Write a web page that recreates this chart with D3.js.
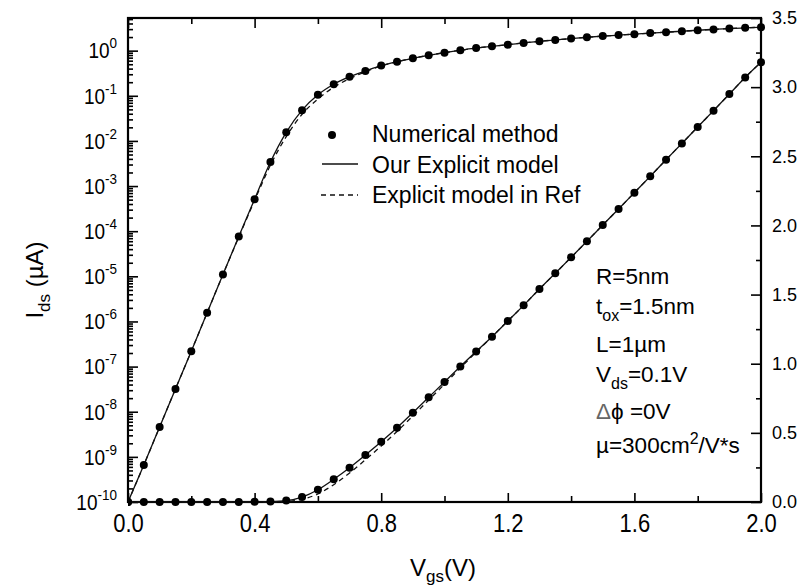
<!DOCTYPE html>
<html>
<head>
<meta charset="utf-8">
<script src="https://cdn.jsdelivr.net/npm/d3@7"></script>
<style>
  html, body { margin: 0; padding: 0; background: #fff; }
  svg { display: block; }
  text { font-family: "Liberation Sans", Arial, Helvetica, sans-serif; fill: #000; }
</style>
</head>
<body>
<svg id="chart" width="810" height="587"></svg>
<script>
// Gate voltage grid (V)
const vgs = [0.00, 0.05, 0.10, 0.15, 0.20, 0.25, 0.30, 0.35, 0.40, 0.45,
             0.50, 0.55, 0.60, 0.65, 0.70, 0.75, 0.80, 0.85, 0.90, 0.95,
             1.00, 1.05, 1.10, 1.15, 1.20, 1.25, 1.30, 1.35, 1.40, 1.45,
             1.50, 1.55, 1.60, 1.65, 1.70, 1.75, 1.80, 1.85, 1.90, 1.95, 2.00];

// Ids (µA) on the logarithmic (left) axis
const numericalLog = [1.0e-10, 6.6e-10, 4.6e-9, 3.2e-8, 2.2e-7, 1.55e-6, 1.1e-5, 7.6e-5, 5.1e-4, 3.4e-3,
                      1.55e-2, 4.8e-2, 0.105, 0.18, 0.265, 0.355, 0.466, 0.57, 0.678, 0.789,
                      0.904, 1.02, 1.148, 1.25, 1.36, 1.48, 1.61, 1.73, 1.85, 1.98,
                      2.10, 2.21, 2.32, 2.45, 2.57, 2.69, 2.83, 2.96, 3.09, 3.20, 3.31];
const ourModelLog  = [1.0e-10, 6.6e-10, 4.6e-9, 3.2e-8, 2.2e-7, 1.55e-6, 1.1e-5, 7.6e-5, 5.1e-4, 3.4e-3,
                      1.55e-2, 4.8e-2, 0.105, 0.18, 0.265, 0.355, 0.466, 0.57, 0.678, 0.789,
                      0.904, 1.02, 1.148, 1.25, 1.36, 1.48, 1.61, 1.73, 1.85, 1.98,
                      2.10, 2.21, 2.32, 2.45, 2.57, 2.69, 2.83, 2.96, 3.09, 3.20, 3.31];
const refModelLog  = [1.0e-10, 6.6e-10, 4.6e-9, 3.2e-8, 2.2e-7, 1.55e-6, 1.1e-5, 7.4e-5, 4.8e-4, 2.9e-3,
                      1.25e-2, 3.9e-2, 0.085, 0.155, 0.24, 0.34, 0.46, 0.57, 0.678, 0.789,
                      0.904, 1.02, 1.148, 1.25, 1.36, 1.48, 1.61, 1.73, 1.85, 1.98,
                      2.10, 2.21, 2.32, 2.45, 2.57, 2.69, 2.83, 2.96, 3.09, 3.20, 3.31];

// Ids (µA) on the linear (right) axis
const numericalLin = [0, 0, 0, 0, 0, 0, 0, 0, 0.001, 0.003,
                      0.010, 0.036, 0.089, 0.164, 0.248, 0.340, 0.436, 0.537, 0.646, 0.757,
                      0.868, 0.980, 1.088, 1.195, 1.309, 1.422, 1.540, 1.654, 1.769, 1.885,
                      2.003, 2.119, 2.237, 2.355, 2.475, 2.593, 2.712, 2.830, 2.950, 3.070, 3.180];
const ourModelLin  = [0, 0, 0, 0, 0, 0, 0, 0, 0.001, 0.003,
                      0.010, 0.036, 0.089, 0.164, 0.248, 0.340, 0.436, 0.537, 0.646, 0.757,
                      0.868, 0.980, 1.088, 1.195, 1.309, 1.422, 1.540, 1.654, 1.769, 1.885,
                      2.003, 2.119, 2.237, 2.355, 2.475, 2.593, 2.712, 2.830, 2.950, 3.070, 3.180];
const refModelLin  = [0, 0, 0, 0, 0, 0, 0, 0, 0, 0,
                      0.003, 0.020, 0.058, 0.125, 0.210, 0.305, 0.405, 0.510, 0.622, 0.737,
                      0.852, 0.970, 1.083, 1.195, 1.309, 1.422, 1.540, 1.654, 1.769, 1.885,
                      2.003, 2.119, 2.237, 2.355, 2.475, 2.593, 2.712, 2.830, 2.950, 3.070, 3.180];

// Axis ticks
const xMajorTicks = [0.0, 0.4, 0.8, 1.2, 1.6, 2.0];
const xMinorTicks = [0.2, 0.6, 1.0, 1.4, 1.8];
const logExponents = [0, -1, -2, -3, -4, -5, -6, -7, -8, -9, -10];
const rightMajorTicks = [0.0, 0.5, 1.0, 1.5, 2.0, 2.5, 3.0, 3.5];
const rightMinorTicks = [0.25, 0.75, 1.25, 1.75, 2.25, 2.75, 3.25];

// Legend entries
const legendLabels = ["Numerical method", "Our Explicit model", "Explicit model in Ref"];

const svg = d3.select("#chart");
const L = 128, R = 761, T = 18, B = 502;

const x = d3.scaleLinear().domain([0, 2]).range([L, R]);
const yLog = d3.scaleLog().domain([1e-10, 5.29]).range([B, T]);
const yLin = d3.scaleLinear().domain([0, 3.5]).range([B, T]);

svg.append("defs").append("clipPath").attr("id", "plotClip")
  .append("rect").attr("x", L).attr("y", T - 6).attr("width", R - L + 6).attr("height", B - T + 12);

// ---- axes ----
function styleAxis(g) {
  g.select(".domain").remove();
  g.selectAll(".tick line").attr("stroke", "#000").attr("stroke-width", 1.6);
}

// bottom
svg.append("g").attr("transform", `translate(0,${B})`)
  .call(d3.axisBottom(x).tickValues(xMajorTicks).tickSize(-9).tickPadding(9).tickFormat(d3.format(".1f")))
  .call(styleAxis)
  .call(g => g.selectAll("text").attr("font-size", 22).attr("fill", "#000")
    .attr("transform", "scale(1,1.2)"));
svg.append("g").attr("transform", `translate(0,${B})`)
  .call(d3.axisBottom(x).tickValues(xMinorTicks).tickSize(-6).tickFormat(""))
  .call(styleAxis);

// top
svg.append("g").attr("transform", `translate(0,${T})`)
  .call(d3.axisTop(x).tickValues(xMajorTicks).tickSize(-10).tickFormat(""))
  .call(styleAxis);
svg.append("g").attr("transform", `translate(0,${T})`)
  .call(d3.axisTop(x).tickValues(xMinorTicks).tickSize(-6).tickFormat(""))
  .call(styleAxis);

// left (log)
const decadeValues = logExponents.map(e => Math.pow(10, e));
const minorLogValues = [];
logExponents.forEach(e => {
  if (e === 0) {
    [2, 3, 4, 5].forEach(k => minorLogValues.push(k));
  }
  if (e > -10) {
    [2, 3, 4, 5, 6, 7, 8, 9].forEach(k => minorLogValues.push(k * Math.pow(10, e - 1)));
  }
});
const leftAxis = svg.append("g").attr("transform", `translate(${L},0)`)
  .call(d3.axisLeft(yLog).tickValues(decadeValues).tickSize(-10).tickFormat(""))
  .call(styleAxis);
svg.append("g").attr("transform", `translate(${L},0)`)
  .call(d3.axisLeft(yLog).tickValues(minorLogValues.filter(v => v <= 5.29)).tickSize(-5).tickFormat(""))
  .call(styleAxis);

leftAxis.selectAll(".tick").each(function (d) {
  const e = Math.round(Math.log10(d));
  const t = d3.select(this).append("text")
    .attr("x", -11).attr("y", 6.5)
    .attr("text-anchor", "end")
    .attr("font-size", 19)
    .attr("transform", "scale(1,1.12)")
    .attr("fill", "#000");
  t.append("tspan").text("10");
  t.append("tspan").attr("dy", -9).attr("font-size", 13.5).text(String(e));
});

// right (linear)
svg.append("g").attr("transform", `translate(${R},0)`)
  .call(d3.axisRight(yLin).tickValues(rightMajorTicks).tickSize(-10).tickPadding(11).tickFormat(d3.format(".1f")))
  .call(styleAxis)
  .call(g => g.selectAll("text").attr("font-size", 18).attr("fill", "#333"));
svg.append("g").attr("transform", `translate(${R},0)`)
  .call(d3.axisRight(yLin).tickValues(rightMinorTicks).tickSize(-5).tickFormat(""))
  .call(styleAxis);

// frame
svg.append("rect")
  .attr("x", L).attr("y", T).attr("width", R - L).attr("height", B - T)
  .attr("fill", "none").attr("stroke", "#000").attr("stroke-width", 2.2);

// ---- curves ----
const plot = svg.append("g").attr("clip-path", "url(#plotClip)");

function drawLine(values, yScale, dashed) {
  const line = d3.line()
    .x((d, i) => x(vgs[i]))
    .y(d => yScale(d))
    .curve(d3.curveMonotoneX);
  plot.append("path")
    .attr("d", line(values))
    .attr("fill", "none")
    .attr("stroke", "#111")
    .attr("stroke-width", 1.3)
    .attr("stroke-dasharray", dashed ? "5,4" : null);
}

drawLine(refModelLog, yLog, true);
drawLine(refModelLin, yLin, true);
drawLine(ourModelLog, yLog, false);
drawLine(ourModelLin, yLin, false);

function drawDots(values, yScale) {
  plot.append("g").selectAll("circle")
    .data(values)
    .join("circle")
    .attr("cx", (d, i) => x(vgs[i]))
    .attr("cy", d => yScale(d))
    .attr("r", 4)
    .attr("fill", "#000");
}
drawDots(numericalLog, yLog);
drawDots(numericalLin, yLin);

// ---- legend ----
const legend = svg.append("g");
legend.append("circle").attr("cx", 332).attr("cy", 135).attr("r", 4).attr("fill", "#000");
legend.append("line").attr("x1", 322).attr("x2", 358).attr("y1", 164).attr("y2", 164)
  .attr("stroke", "#111").attr("stroke-width", 1.3);
legend.append("line").attr("x1", 321).attr("x2", 358).attr("y1", 195).attr("y2", 195)
  .attr("stroke", "#111").attr("stroke-width", 1.3).attr("stroke-dasharray", "5,4");
legend.selectAll("text.leg")
  .data(legendLabels)
  .join("text")
  .attr("class", "leg")
  .attr("x", 372)
  .attr("y", (d, i) => [142, 173, 203][i])
  .attr("font-size", 23)
  .text(d => d);

// ---- device parameters ----
const ann = svg.append("g");
function annLine(y, parts) {
  const t = ann.append("text").attr("x", 596).attr("y", y).attr("font-size", 22.5);
  let shift = 0;
  parts.forEach(p => {
    const ts = t.append("tspan").text(p.text);
    let target = 0;
    if (p.sub) target = 7;
    if (p.sup) target = -9;
    if (target !== shift) ts.attr("dy", target - shift);
    shift = target;
    if (p.sub || p.sup) ts.attr("font-size", 16);
    if (p.fill) ts.attr("fill", p.fill);
  });
}
annLine(284, [{ text: "R=5nm" }]);
annLine(314, [{ text: "t" }, { text: "ox", sub: true }, { text: "=1.5nm" }]);
annLine(352, [{ text: "L=1\u00b5m" }]);
annLine(382, [{ text: "V" }, { text: "ds", sub: true }, { text: "=0.1V" }]);
annLine(419, [{ text: "\u0394", fill: "#666" }, { text: "\u03d5 =0V" }]);
annLine(453, [{ text: "\u00b5=300cm" }, { text: "2", sup: true }, { text: "/V*s" }]);

// ---- axis titles ----
const xt = svg.append("text").attr("x", 410).attr("y", 576).attr("font-size", 24);
xt.append("tspan").text("V");
xt.append("tspan").attr("dy", 6).attr("font-size", 17).text("gs");
xt.append("tspan").attr("dy", -6).text("(V)");

const yt = svg.append("text")
  .attr("transform", "translate(43,280) rotate(-90)")
  .attr("text-anchor", "middle")
  .attr("font-size", 24);
yt.append("tspan").text("I");
yt.append("tspan").attr("dy", 7).attr("font-size", 17).text("ds");
yt.append("tspan").attr("dy", -7).text(" (\u00b5A)");
</script>
</body>
</html>
